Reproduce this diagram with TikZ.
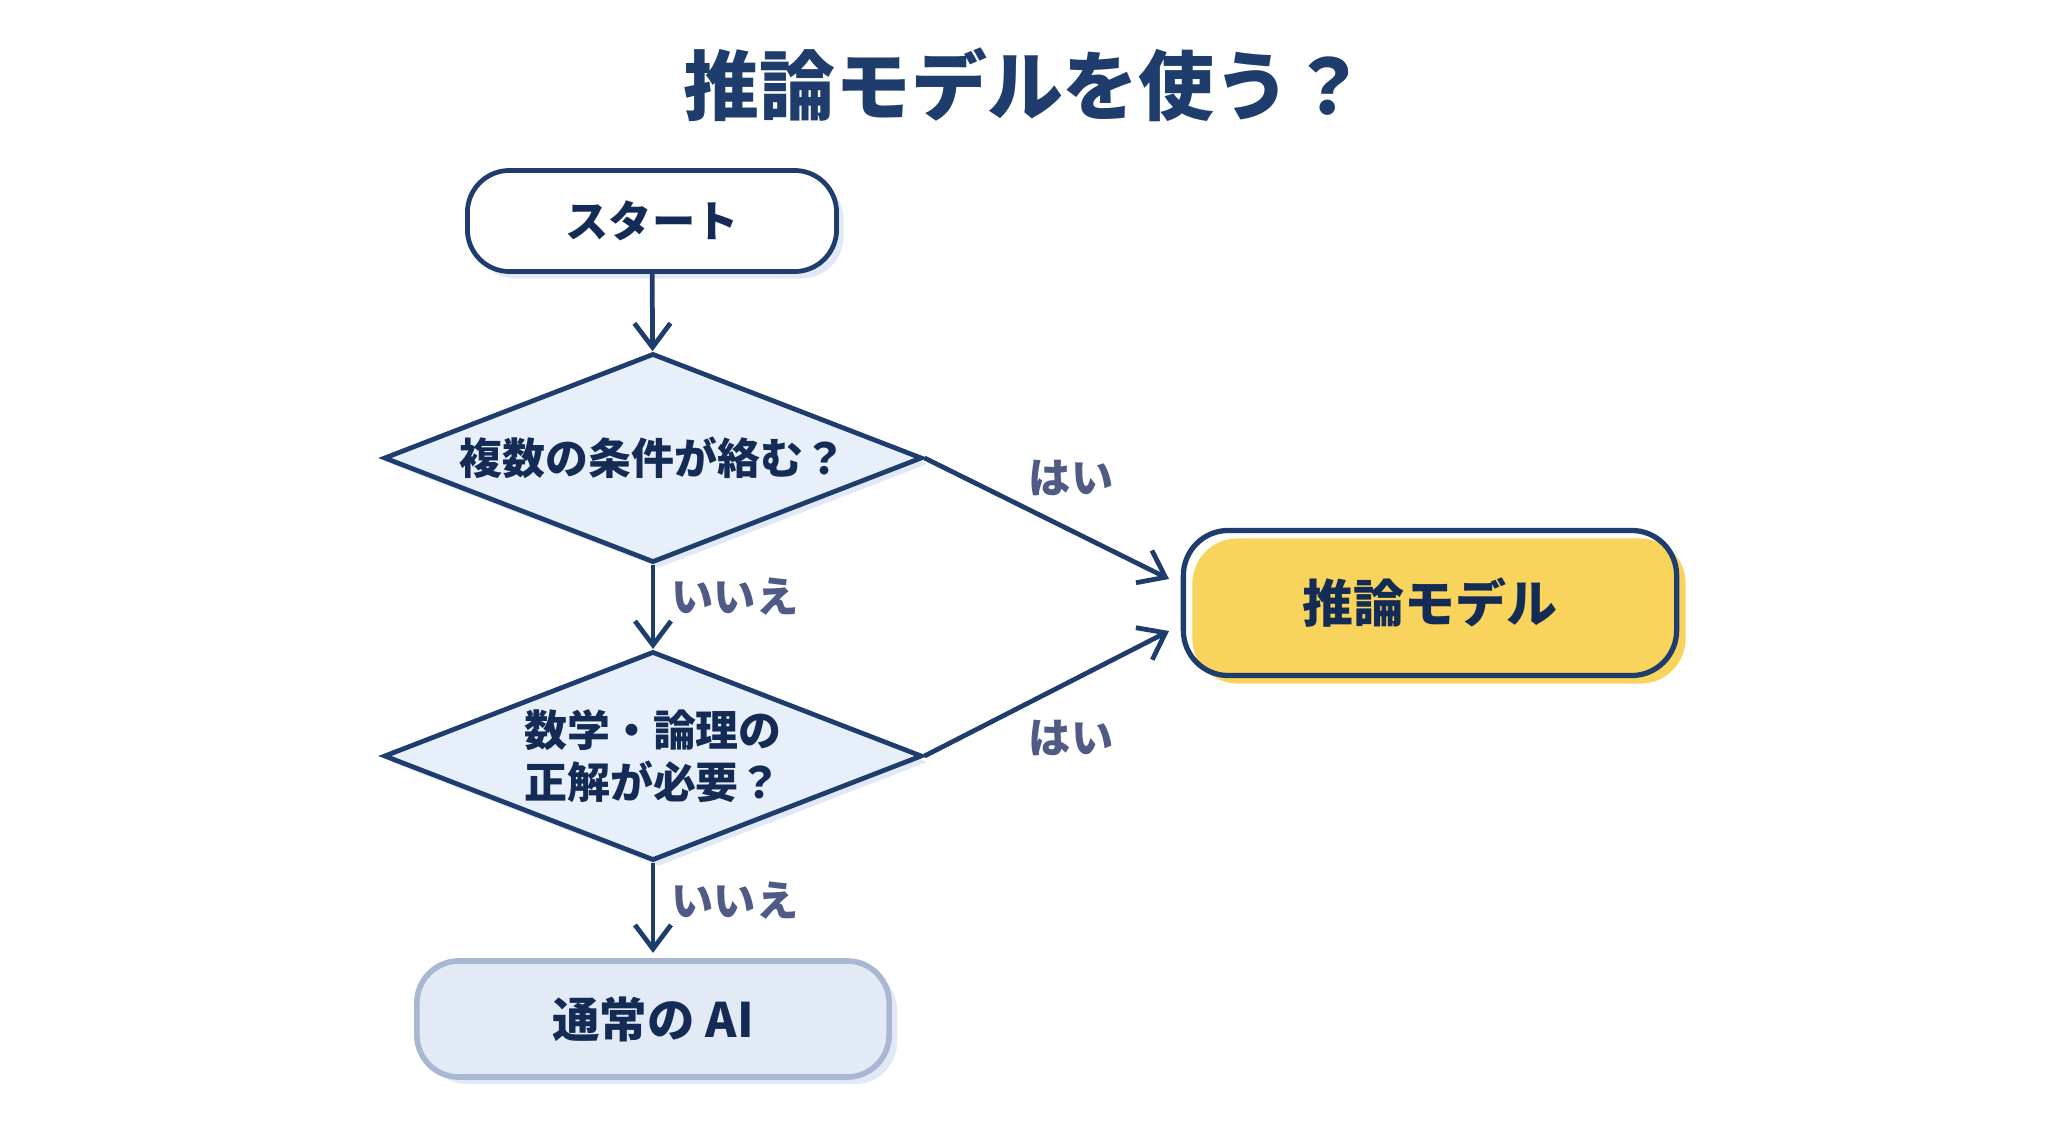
\documentclass[tikz,border=0pt]{standalone}
\usepackage{fontspec}
\setmainfont{Noto Sans CJK JP}
\usetikzlibrary{shapes.geometric,arrows.meta,shadows}

\definecolor{navy}{HTML}{1E3C6C}
\definecolor{ink}{HTML}{142C55}
\definecolor{labelgray}{HTML}{4F5A85}
\definecolor{paleblue}{HTML}{E7EFFA}
\definecolor{shadowblue}{HTML}{E1E9F6}
\definecolor{aiedge}{HTML}{A9B7D3}
\definecolor{aifill}{HTML}{E2EAF6}
\definecolor{gold}{HTML}{F8D45C}

\tikzset{
  startbox/.style={draw=navy, line width=1.35pt, fill=white, rounded corners=0.42cm,
    minimum width=3.69cm, minimum height=1.01cm, font=\bfseries\fontsize{12.3}{15}\selectfont, text=ink,
    general shadow={fill=shadowblue, shadow xshift=0.07cm, shadow yshift=-0.07cm}},
  decision/.style={diamond, aspect=2.57, draw=navy, line width=1.35pt, fill=paleblue, inner sep=0pt,
    minimum width=5.38cm, minimum height=2.09cm, align=center,
    font=\bfseries\fontsize{12.2}{14.8}\selectfont, text=ink,
    general shadow={fill=shadowblue, shadow xshift=0.06cm, shadow yshift=-0.06cm}},
  answerbox/.style={draw=navy, line width=1.5pt, rounded corners=0.45cm,
    minimum width=4.93cm, minimum height=1.45cm, font=\bfseries\fontsize{14.5}{17}\selectfont, text=ink,
    general shadow={fill=gold, shadow xshift=0.09cm, shadow yshift=-0.08cm}},
  plainbox/.style={draw=aiedge, line width=1.6pt, fill=aifill, rounded corners=0.42cm,
    minimum width=4.72cm, minimum height=1.16cm, font=\bfseries\fontsize{13.5}{16}\selectfont, text=ink,
    general shadow={fill=shadowblue, shadow xshift=0.08cm, shadow yshift=-0.07cm}},
  edgelabel/.style={font=\bfseries\fontsize{12}{14}\selectfont, text=labelgray},
  flow/.style={draw=navy, line width=1.35pt, -{Straight Barb[length=0.24cm, width=0.36cm]}}
}

\begin{document}
\begin{tikzpicture}[x=0.01cm, y=-0.01cm]
  \useasboundingbox (0,0) rectangle (2048,1143);

  % title
  \node[font=\bfseries\fontsize{21.6}{26}\selectfont, text=navy] (title) at (1025,85) {推論モデルを使う？};

  % flow nodes
  \node[startbox] (start) at (652,221) {スタート};
  \node[decision] (q1) at (653,458) {複数の条件が絡む？};
  \node[decision] (q2) at (653,756) {数学・論理の\\正解が必要？};
  \node[answerbox] (reason) at (1430,603) {推論モデル};
  \node[plainbox] (normal) at (653,1019) {通常の AI};

  \coordinate (in1) at (1169,579);
  \coordinate (in2) at (1169,631);

  % connectors
  \draw[flow] (start) -- (q1);
  \draw[flow] (q1) -- (q2);
  \draw[flow, shorten >=1.5pt] (q2) -- (normal);
  \draw[flow] (q1.east) -- (in1);
  \draw[flow] (q2.east) -- (in2);

  % labels
  \node[edgelabel] (yes1) at (1071,478) {はい};
  \node[edgelabel] (yes2) at (1071,738) {はい};
  \node[edgelabel] (no1) at (735,597) {いいえ};
  \node[edgelabel] (no2) at (735,901) {いいえ};
\end{tikzpicture}
\end{document}
